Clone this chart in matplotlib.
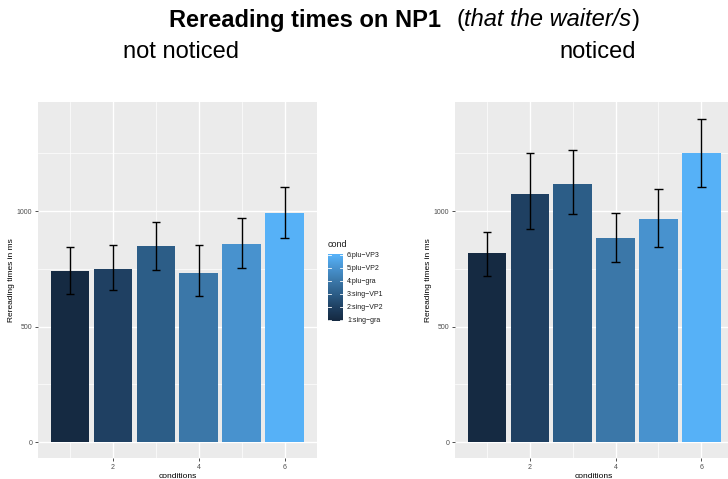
import matplotlib
matplotlib.use("Agg")
import matplotlib.pyplot as plt
import numpy as np
from matplotlib.colors import LinearSegmentedColormap

plt.rcParams['font.family'] = ['Liberation Sans', 'DejaVu Sans']

conditions = [1, 2, 3, 4, 5, 6]
cond_labels = ["1:sing\u2212gra", "2:sing\u2212VP2", "3:sing\u2212VP1",
               "4:plu\u2212gra", "5:plu\u2212VP2", "6:plu\u2212VP3"]
not_noticed_mean = [742, 750, 850, 733, 859, 993]
not_noticed_low = [642, 658, 745, 635, 756, 885]
not_noticed_high = [846, 853, 955, 853, 970, 1104]
noticed_mean = [820, 1075, 1118, 885, 967, 1253]
noticed_low = [719, 925, 987, 779, 843, 1103]
noticed_high = [911, 1250, 1264, 994, 1097, 1400]
bar_colors = ["#152A42", "#1F4062", "#2C5D87", "#3B77A8", "#4892CE", "#56B1F7"]

W, H = 728, 479
fig = plt.figure(figsize=(W / 100, H / 100), dpi=100)
fig.patch.set_facecolor("white")


def px_axes(x0, x1, y0, y1):
    return fig.add_axes([x0 / W, 1 - y1 / H, (x1 - x0) / W, (y1 - y0) / H])


def panel(ax, means, lows, highs):
    ax.set_facecolor("#EBEBEB")
    ax.set_xlim(0.255, 6.745)
    ax.set_ylim(-70, 1473)
    ax.set_yticks([0, 500, 1000])
    ax.set_yticks([250, 750, 1250], minor=True)
    ax.set_xticks([2, 4, 6])
    ax.set_xticks([1, 3, 5], minor=True)
    ax.grid(which="major", color="white", linewidth=1.0)
    ax.grid(which="minor", color="white", linewidth=0.5)
    ax.set_axisbelow(True)
    for s in ax.spines.values():
        s.set_visible(False)
    ax.tick_params(which="major", length=2.2, width=0.6, color="#333333",
                   labelsize=5, labelcolor="#4D4D4D", pad=2)
    ax.tick_params(which="minor", length=0)
    ax.bar(conditions, means, width=0.9, color=bar_colors, zorder=2)
    x = np.array(conditions)
    ax.vlines(x, lows, highs, color="black", linewidth=1.0, zorder=3)
    ax.hlines(lows, x - 0.1, x + 0.1, color="black", linewidth=1.0, zorder=3)
    ax.hlines(highs, x - 0.1, x + 0.1, color="black", linewidth=1.0, zorder=3)
    ax.set_xlabel("conditions", fontsize=6, labelpad=1.5)
    ax.set_ylabel("Rereading times in ms", fontsize=6, labelpad=1)


ax1 = px_axes(38, 316.7, 102, 458.3)
panel(ax1, not_noticed_mean, not_noticed_low, not_noticed_high)
ax2 = px_axes(455, 733.2, 102, 458.3)
panel(ax2, noticed_mean, noticed_low, noticed_high)

# colorbar legend
cmap = LinearSegmentedColormap.from_list("cond", bar_colors)
cax = px_axes(328.3, 343.3, 254, 320.7)
grad = np.linspace(0.95, 6.1, 200).reshape(-1, 1)
cax.imshow(grad, aspect="auto", cmap=cmap, origin="lower",
           extent=[0, 1, 0.95, 6.1], vmin=1, vmax=6)
cax.set_xlim(0, 1)
cax.set_ylim(0.95, 6.1)
cax.set_xticks([])
cax.set_yticks([])
for s in cax.spines.values():
    s.set_visible(False)
for c in conditions:
    cax.plot([0, 0.2], [c, c], color="white", linewidth=0.6)
    cax.plot([0.8, 1], [c, c], color="white", linewidth=0.6)
    cax.text(1.25, c, cond_labels[c - 1], fontsize=5, va="center",
             ha="left", color="#1A1A1A", transform=cax.transData, clip_on=False)
fig.text(328 / W, 1 - 244 / H, "cond", fontsize=6.5, ha="left", va="center",
         color="#1A1A1A")

# titles
FS = 17
fig.text(441 / W, 1 - 20 / H, "Rereading times on NP1", fontsize=FS,
         fontweight="bold", ha="right", va="center")
r = fig.canvas.get_renderer()
x = 456
parts = [("(", "normal"), ("that the waiter/s", "italic"), (")", "normal")]
for txt, sty in parts:
    t = fig.text(x / W, 1 - 20 / H, txt, fontsize=FS, style=sty,
                 ha="left", va="center")
    bb = t.get_window_extent(renderer=r)
    x += bb.width + (1 if sty == "italic" else 0)
fig.text(181 / W, 1 - 52 / H, "not noticed", fontsize=FS, ha="center",
         va="center")
fig.text(598 / W, 1 - 52 / H, "noticed", fontsize=FS, ha="center",
         va="center")

fig.savefig("out.png", dpi=100)
